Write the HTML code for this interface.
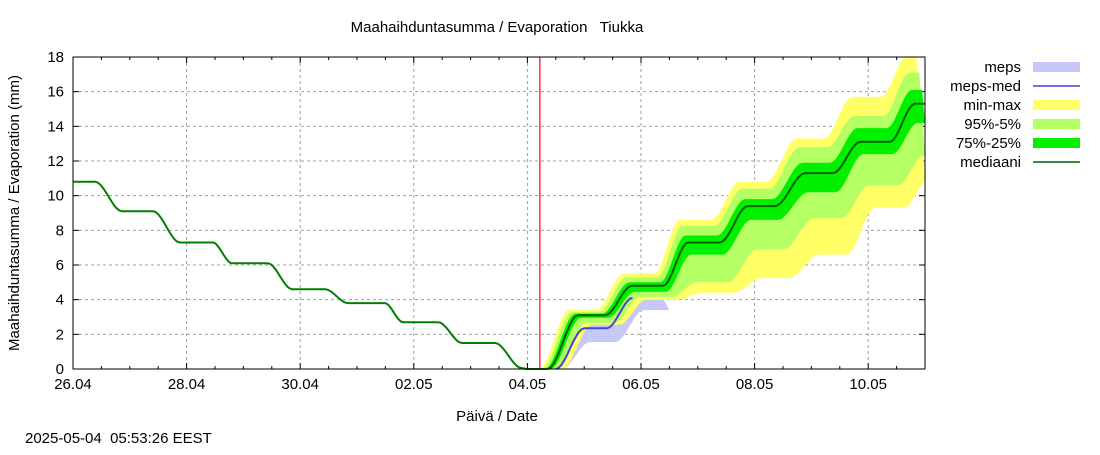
<!DOCTYPE html>
<html><head><meta charset="utf-8"><style>
body{margin:0;background:#fff;font-family:"Liberation Sans",sans-serif;}
svg text{font-family:"Liberation Sans",sans-serif;font-size:15px;fill:#000;white-space:pre;}
</style></head><body>
<svg id="c" width="1100" height="450" xmlns="http://www.w3.org/2000/svg">
<text x="497" y="32" text-anchor="middle" xml:space="preserve">Maahaihduntasumma / Evaporation   Tiukka</text>
<text transform="translate(19,213) rotate(-90)" text-anchor="middle">Maahaihduntasumma / Evaporation (mm)</text>
<text x="497" y="421" text-anchor="middle">Päivä / Date</text>
<text x="25" y="443" xml:space="preserve">2025-05-04  05:53:26 EEST</text>
<g id="plot"></g>
</svg>
<script>
const xTickLabels=["26.04","28.04","30.04","02.05","04.05","06.05","08.05","10.05"];
const yTickLabels=[0,2,4,6,8,10,12,14,16,18];
const histT=[0,0.39,0.86,1.41,1.88,2.46,2.8,3.43,3.86,4.44,4.84,5.49,5.81,6.43,6.85,7.43,7.9,8.0,8.36];
const histV=[10.8,10.8,9.1,9.1,7.3,7.3,6.1,6.1,4.6,4.6,3.8,3.8,2.7,2.7,1.5,1.5,0.05,0,0];
const fcT=[8.36,8.89,9.37,9.84,10.39,10.83,11.39,11.88,12.36,12.89,13.38,13.86,14.38,14.82,15.0];
const medP=[0,3.1,4.8,7.3,9.4,11.3,13.1,15.3];
const maxP=[0,3.45,5.5,8.6,10.8,13.3,15.7,18];
const p95P=[0,3.3,5.3,8.25,10.4,12.8,14.6,17.1];
const p75P=[0,3.2,5.0,7.7,9.8,11.9,13.9,16.1];
const p25P=[0,2.95,4.45,6.6,8.6,10.2,12.4,14.2];
const p5P=[0,2.65,4.15,5.0,6.9,8.7,10.6,12.3];
const minP=[0,2.55,4.0,4.4,5.25,6.6,9.3,11.0];
const mepsT=[8.5,9.0,9.45,9.95,10.4];
const mepsHi=[0,2.6,2.6,4.0,4.0];
const mepsLo=[0,1.55,1.55,3.4,3.4];
const mepsMedT=[8.45,8.95,9.35,9.8];
const mepsMed=[0,2.35,2.35,4.1];
const nowDay=8.22;

const X0=73,X1=925,Y0=369,Y1=57,DAYS=15,YMAX=18;
const xs=d=>X0+d*(X1-X0)/DAYS, ys=v=>Y0-v*(Y0-Y1)/YMAX;
const NS="http://www.w3.org/2000/svg";
const g=document.getElementById('plot');
function mk(t,a,p){const e=document.createElementNS(NS,t);for(const k in a)e.setAttribute(k,a[k]);(p||g).appendChild(e);return e;}
function expand(P){const o=[P[0]];for(let i=1;i<P.length;i++){o.push(P[i]);o.push(P[i]);}return o.slice(0,fcT.length);}
function pts(T,V,sh){
  sh=sh||0;const o=[];
  const cx=t=>xs(Math.min(DAYS,Math.max(0,t+sh)));
  for(let i=0;i<T.length;i++){
    if(i==0){o.push([cx(T[0]),ys(V[0])]);continue;}
    const N=10;
    for(let k=1;k<=N;k++){const f=k/N,s=f*f*(3-2*f);
      const t=T[i-1]+(T[i]-T[i-1])*f, v=V[i-1]+(V[i]-V[i-1])*s;
      o.push([cx(t),ys(v)]);}
  }
  return o.map(p=>p[0].toFixed(1)+','+p[1].toFixed(1));
}
function band(Thi,Vhi,shHi,Tlo,Vlo,shLo,col,name){
  const a=pts(Thi,Vhi,shHi), b=pts(Tlo,Vlo,shLo).reverse();
  const e=mk('polygon',{points:a.concat(b).join(' '),fill:col});
  
  
}
for(let i=0;i<yTickLabels.length;i++){const y=ys(yTickLabels[i]);
  if(i>0&&i<yTickLabels.length-1){const l=mk('line',{x1:X0,x2:X1,y1:y,y2:y,stroke:'#a0a0a0','stroke-dasharray':'3,3'});}
  mk('line',{x1:X0,x2:X0+6,y1:y,y2:y,stroke:'#000'});mk('line',{x1:X1-6,x2:X1,y1:y,y2:y,stroke:'#000'});
  const t=mk('text',{x:X0-9,y:y+5,'text-anchor':'end'});t.textContent=yTickLabels[i];
  }
for(let i=0;i<xTickLabels.length;i++){const x=xs(i*2);
  if(i>0){const l=mk('line',{x1:x,x2:x,y1:Y1,y2:Y0,stroke:'#a0a0a0','stroke-dasharray':'3,3'});}
  const t=mk('text',{x:x,y:Y0+20,'text-anchor':'middle'});t.textContent=xTickLabels[i];
  }
for(let h=1;h<DAYS*2;h++){const x=xs(h/2),L=h%4==0?6:3;
  mk('line',{x1:x,x2:x,y1:Y0,y2:Y0-L,stroke:'#000'});mk('line',{x1:x,x2:x,y1:Y1,y2:Y1+L,stroke:'#000'});}
band(mepsT,mepsHi,0,mepsT,mepsLo,0.1,'#c8c8f8','meps-band');
band(fcT,expand(maxP),-0.15,fcT,expand(minP),0.25,'#ffff66','min-max-band');
band(fcT,expand(p95P),-0.1,fcT,expand(p5P),0.15,'#b4ff64','p95-p5-band');
band(fcT,expand(p75P),-0.05,fcT,expand(p25P),0.05,'#00f000','p75-p25-band');
let e=mk('polyline',{points:pts(mepsMedT,mepsMed,0.05).join(' '),fill:'none',stroke:'#4444dd','stroke-width':2});

e=mk('polyline',{points:pts(histT,histV,0).join(' '),fill:'none',stroke:'#008000','stroke-width':2});

e=mk('polyline',{points:pts(fcT,expand(medP),0).join(' '),fill:'none',stroke:'#006000','stroke-width':2});

e=mk('line',{x1:xs(nowDay),x2:xs(nowDay),y1:Y1,y2:Y0,stroke:'#ff0000','stroke-width':1.2});

e=mk('rect',{x:X0,y:Y1,width:X1-X0,height:Y0-Y1,fill:'none',stroke:'#000'});

const legNames=["meps","meps-med","min-max","95%-5%","75%-25%","mediaani"];
const legCols=["#c8c8f8","#4444dd","#ffff66","#b4ff64","#00f000","#006000"];
const legLine=[false,true,false,false,false,true];
for(let i=0;i<legNames.length;i++){const y=67+i*19;
  const t=mk('text',{x:1021,y:y+5,'text-anchor':'end'});t.textContent=legNames[i];
  
  const s=legLine[i]?mk('line',{x1:1033,x2:1080,y1:y,y2:y,stroke:legCols[i],'stroke-width':1.5}):mk('rect',{x:1033,y:y-5,width:47,height:10,fill:legCols[i]});
  }
</script>
</body></html>
